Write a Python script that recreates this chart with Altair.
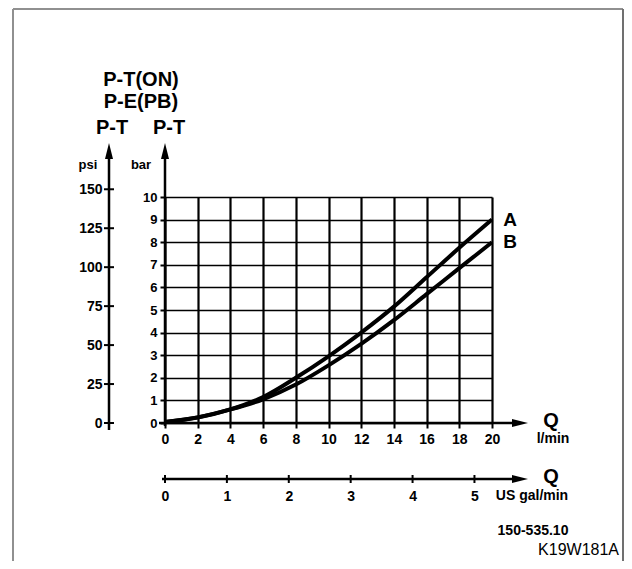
import altair as alt
import pandas as pd

# ---------------- data ----------------
flow_lpm = [0, 2, 4, 6, 8, 10, 12, 14, 16, 18, 20]
pressure_A_bar = [0.05, 0.24, 0.6, 1.15, 2.0, 2.95, 4.0, 5.15, 6.45, 7.75, 9.0]
pressure_B_bar = [0.05, 0.25, 0.6, 1.05, 1.7, 2.55, 3.5, 4.55, 5.7, 6.85, 8.0]
curve_names = ["A", "B"]

lpm_ticks = [0, 2, 4, 6, 8, 10, 12, 14, 16, 18, 20]
bar_ticks = [0, 1, 2, 3, 4, 5, 6, 7, 8, 9, 10]
psi_ticks = [0, 25, 50, 75, 100, 125, 150]
gal_ticks = [0, 1, 2, 3, 4, 5]

BAR_TO_PSI = 14.5038
L_PER_GAL = 3.78541

# ---------------- layout ----------------
W, H = 327, 226
FONT = "Liberation Sans"
INK = "black"

curves_df = pd.DataFrame({
    "Q": flow_lpm + flow_lpm,
    "p": pressure_A_bar + pressure_B_bar,
    "curve": [curve_names[0]] * len(flow_lpm) + [curve_names[1]] * len(flow_lpm),
})
ends_df = pd.DataFrame({
    "Q": [flow_lpm[-1], flow_lpm[-1]],
    "p": [pressure_A_bar[-1], pressure_B_bar[-1]],
    "curve": curve_names,
})
psi_df = pd.DataFrame({"psi": psi_ticks})
gal_df = pd.DataFrame({"gal": gal_ticks})
ONE = pd.DataFrame({"k": [0]})

x_scale = alt.Scale(domain=[0, 20], nice=False, zero=False)
y_scale = alt.Scale(domain=[0, 10], nice=False, zero=False)
psi_top = H - (150 / BAR_TO_PSI) * (H / 10)
psi_scale = alt.Scale(domain=[0, 150], range=[H, psi_top], nice=False)
gal_scale = alt.Scale(domain=[0, 20 / L_PER_GAL], nice=False, zero=False)

lab = dict(labelFont=FONT, labelFontWeight="bold", labelColor=INK, tickCount=40,
           labelOverlap=False, labelFlush=False, format="d")

x_axis = alt.Axis(values=lpm_ticks, grid=True, gridColor=INK, gridWidth=2.2, gridOpacity=1,
                  domain=False, ticks=True, tickColor=INK, tickWidth=2, tickSize=5,
                  labelPadding=4, labelFontSize=14, title=None, **lab)
y_axis = alt.Axis(values=bar_ticks, grid=True, gridColor=INK, gridWidth=1.7, gridOpacity=1,
                  domain=False, ticks=True, tickColor=INK, tickWidth=2, tickSize=5,
                  labelPadding=3, labelFontSize=13, title=None, **lab)
psi_axis = alt.Axis(values=psi_ticks, orient="left", offset=56, grid=False, domain=False,
                    ticks=False, tickSize=0, labelPadding=7, labelFontSize=14, title=None, **lab)
gal_axis = alt.Axis(values=gal_ticks, orient="bottom", offset=56, grid=False, domain=False,
                    ticks=False, tickSize=0, labelPadding=10, labelFontSize=14, title=None, **lab)

curves = alt.Chart(curves_df).mark_line(color=INK, strokeWidth=4, interpolate="monotone").encode(
    x=alt.X("Q:Q", scale=x_scale, axis=x_axis),
    y=alt.Y("p:Q", scale=y_scale, axis=y_axis),
    detail="curve:N",
)
end_labels = alt.Chart(ends_df).mark_text(font=FONT, fontWeight="bold", fontSize=19, color=INK,
                                          align="center", baseline="middle", dx=18).encode(
    x=alt.X("Q:Q", scale=x_scale), y=alt.Y("p:Q", scale=y_scale), text="curve:N")


def hrule(y, x1, x2, w=2.5, color=INK):
    return alt.Chart(ONE).mark_rule(color=color, strokeWidth=w).encode(
        x=alt.value(x1), x2=alt.value(x2), y=alt.value(y))


def vrule(x, y1, y2, w=2.5, color=INK):
    return alt.Chart(ONE).mark_rule(color=color, strokeWidth=w).encode(
        x=alt.value(x), y=alt.value(y1), y2=alt.value(y2))


UP = "M0,-1L0.5,1L-0.5,1Z"
RIGHT = "M1,0L-1,0.5L-1,-0.5Z"


def arrow(x, y, shape):
    return alt.Chart(ONE).mark_point(shape=shape, filled=True, color=INK, opacity=1, size=256,
                                     strokeWidth=0).encode(x=alt.value(x), y=alt.value(y))


def label(t, x, y, size=14, weight="bold", align="center", baseline="middle"):
    return alt.Chart(ONE).mark_text(text=t, font=FONT, fontSize=size, fontWeight=weight,
                                    color=INK, align=align, baseline=baseline).encode(
        x=alt.value(x), y=alt.value(y))


deco = [
    # frame
    vrule(-152, -188, 400, w=2, color="#909090"),
    hrule(-188, -152, 458, w=2, color="#909090"),
    vrule(458, -188, 400, w=2, color="#707070"),
    # axis lines + arrows
    vrule(0, -46, 229),
    arrow(0, -46, UP),
    vrule(-56, -46, 233),
    arrow(-56, -46, UP),
    hrule(H, -6, 355),
    arrow(355, H, RIGHT),
    hrule(282, -3, 355),
    arrow(355, 282, RIGHT),
    # texts
    label("P-T(ON)", -24, -117, size=20),
    label("P-E(PB)", -24, -95, size=20),
    label("P-T", -53, -69, size=20),
    label("P-T", 4, -69, size=20),
    label("psi", -77, -32, size=13),
    label("bar", -24, -32, size=13),
    label("Q", 386, 224, size=20),
    label("l/min", 388, 242, size=14),
    label("Q", 386, 280, size=20),
    label("US gal/min", 367, 299, size=14),
    label("150-535.10", 368, 334, size=14),
    label("K19W181A", 454, 361, size=16, weight="normal", align="right", baseline="bottom"),
]

main = alt.layer(curves, end_labels, *deco)

psi_layer = alt.Chart(psi_df).mark_rule(color=INK, strokeWidth=2).encode(
    y=alt.Y("psi:Q", scale=psi_scale, axis=psi_axis),
    x=alt.value(-61), x2=alt.value(-51))

gal_layer = alt.Chart(gal_df).mark_rule(color=INK, strokeWidth=2).encode(
    x=alt.X("gal:Q", scale=gal_scale, axis=gal_axis),
    y=alt.value(278), y2=alt.value(286))

chart = alt.layer(main, psi_layer, gal_layer).resolve_scale(
    x="independent", y="independent"
).properties(
    width=W, height=H,
    autosize=alt.AutoSizeParams(type="none"),
    padding={"left": 157, "top": 189, "right": 132, "bottom": 138},
    background="white",
).configure_view(stroke=None)

chart.save("out.html", embed_options={"renderer": "svg", "actions": False})
